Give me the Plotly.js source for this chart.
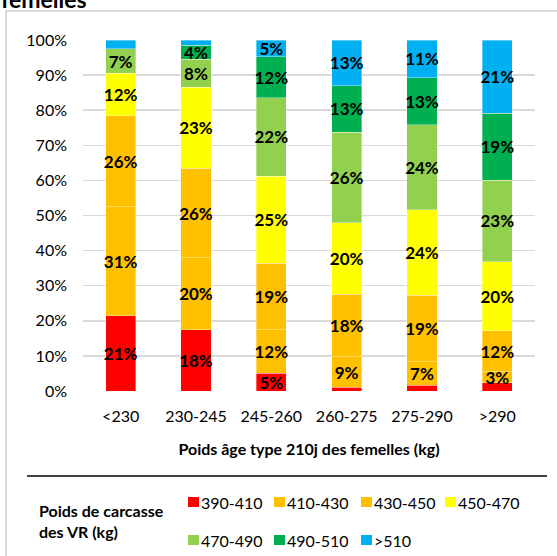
<!DOCTYPE html>
<html>
<head>
<meta charset="utf-8">
<script src="https://cdn.plot.ly/plotly-3.0.1.min.js"></script>
<style>
  html, body { margin: 0; padding: 0; background: #ffffff; }
  #chart { width: 557px; height: 556px; }
</style>
</head>
<body>
<div id="chart"></div>
<script>
// Categories: "Poids âge type 210j des femelles (kg)"
const categories = ['<230', '230-245', '245-260', '260-275', '275-290', '>290'];

// Series: "Poids de carcasse des VR (kg)" — share (%) in each category
const seriesNames = ['390-410', '410-430', '430-450', '450-470', '470-490', '490-510', '>510'];
const s390_410 = [21.4, 17.5, 5.0, 1.0, 1.7, 2.3];
const s410_430 = [31.0, 20.4, 12.4, 8.7, 6.6, 3.2];
const s430_450 = [26.0, 25.5, 19.0, 17.8, 19.0, 11.6];
const s450_470 = [12.0, 23.0, 24.7, 20.4, 24.3, 19.7];
const s470_490 = [7.0, 8.0, 22.4, 25.8, 24.2, 23.3];
const s490_510 = [0.0, 4.0, 11.6, 13.2, 13.3, 19.0];
const s510p    = [2.5, 1.5, 4.8, 13.0, 10.8, 20.9];

const yTickVals = [0, 10, 20, 30, 40, 50, 60, 70, 80, 90, 100];

const seriesValues = [s390_410, s410_430, s430_450, s450_470, s470_490, s490_510, s510p];
const seriesColors = ['#FF0000', '#FFC000', '#FFC000', '#FFFF00', '#92D050', '#00B050', '#00B0F0'];

const FONT = 'Lato, "Open Sans", "DejaVu Sans", sans-serif';

const traces = seriesValues.map((vals, i) => ({
  type: 'bar',
  name: seriesNames[i],
  x: categories,
  y: vals,
  marker: { color: seriesColors[i], line: { color: 'rgba(255,255,255,0.45)', width: 0.8 } },
  text: vals.map(v => (v >= 3 ? Math.round(v) + '%' : '')),
  textposition: 'inside',
  insidetextanchor: 'middle',
  textangle: 0,
  textfont: { family: FONT, size: 17, color: '#000000', weight: 'bold' },
  showlegend: false,
  hoverinfo: 'skip'
}));

// plot area (pixels): left 83, right 535, top 40, bottom 391
const L = 83, R = 535, T = 40, B = 391, W = 557, H = 556;
const px = x => (x - L) / (R - L);
const py = y => (B - y) / (B - T);

// legend grid (layout only): 4 columns, 2 rows
const legendColX = [188, 274, 361, 445];
const legendRowY = [502, 540];
const SW = 11, SH = 10;

const legendShapes = seriesNames.map((name, i) => {
  const cx = legendColX[i % 4], cy = legendRowY[Math.floor(i / 4)];
  return {
    type: 'rect', xref: 'paper', yref: 'paper',
    x0: px(cx), x1: px(cx + SW), y0: py(cy - SH / 2), y1: py(cy + SH / 2),
    fillcolor: seriesColors[i], line: { width: 0 }
  };
});
const legendLabels = seriesNames.map((name, i) => {
  const cx = legendColX[i % 4], cy = legendRowY[Math.floor(i / 4)];
  return {
    text: name, xref: 'paper', yref: 'paper',
    x: px(cx + SW + 1), xanchor: 'left',
    y: py(cy), yanchor: 'middle',
    showarrow: false, borderpad: 0,
    font: { family: FONT, size: 16, color: '#000000' }
  };
});

const layout = {
  width: W,
  height: H,
  margin: { l: L, r: W - R, t: T, b: H - B, pad: 0, autoexpand: false },
  paper_bgcolor: '#ffffff',
  plot_bgcolor: '#ffffff',
  font: { family: FONT, size: 16, color: '#000000' },
  barmode: 'stack',
  barnorm: 'percent',
  bargap: 0.6,
  uniformtext: { mode: 'show', minsize: 17 },
  showlegend: false,
  title: {
    text: '<b>femelles</b>',
    font: { family: FONT, size: 23, color: '#000000' },
    xref: 'container', yref: 'container',
    x: 0.002, xanchor: 'left',
    y: 0.985, yanchor: 'bottom'
  },
  xaxis: {
    type: 'category',
    showgrid: false,
    zeroline: false,
    showline: false,
    ticks: '',
    ticklabelstandoff: 14,
    tickfont: { family: FONT, size: 16, color: '#000000' },
    title: {
      text: '<b>Poids âge type 210j des femelles (kg)</b>',
      font: { family: FONT, size: 16, color: '#000000' },
      standoff: 19
    },
    automargin: false
  },
  yaxis: {
    range: [0, 100],
    tickvals: yTickVals,
    ticktext: yTickVals.map(v => v + '%'),
    showgrid: true,
    gridcolor: '#d9d9d9',
    gridwidth: 1.5,
    zeroline: false,
    showline: false,
    ticks: '',
    ticklabelstandoff: 15,
    tickfont: { family: FONT, size: 16, color: '#000000' },
    automargin: false,
    fixedrange: true
  },
  annotations: [
    {
      text: '<b>Poids de carcasse<br>des VR (kg)</b>',
      xref: 'paper', yref: 'paper',
      x: px(37), xanchor: 'left',
      y: py(521), yanchor: 'middle',
      align: 'left',
      showarrow: false,
      font: { family: FONT, size: 16, color: '#000000' }
    }
  ].concat(legendLabels),
  shapes: [
    {
      type: 'rect', xref: 'paper', yref: 'paper',
      x0: px(6), x1: px(575), y0: py(11), y1: py(575),
      line: { color: '#d9d9d9', width: 2 },
      fillcolor: 'rgba(0,0,0,0)',
      layer: 'below'
    },
    {
      type: 'line', xref: 'paper', yref: 'paper',
      x0: px(27), x1: px(547), y0: py(476), y1: py(476),
      line: { color: '#000000', width: 1.5 }
    }
  ].concat(legendShapes)
};

Plotly.newPlot('chart', traces, layout, { displayModeBar: false, staticPlot: true });
</script>
</body>
</html>
